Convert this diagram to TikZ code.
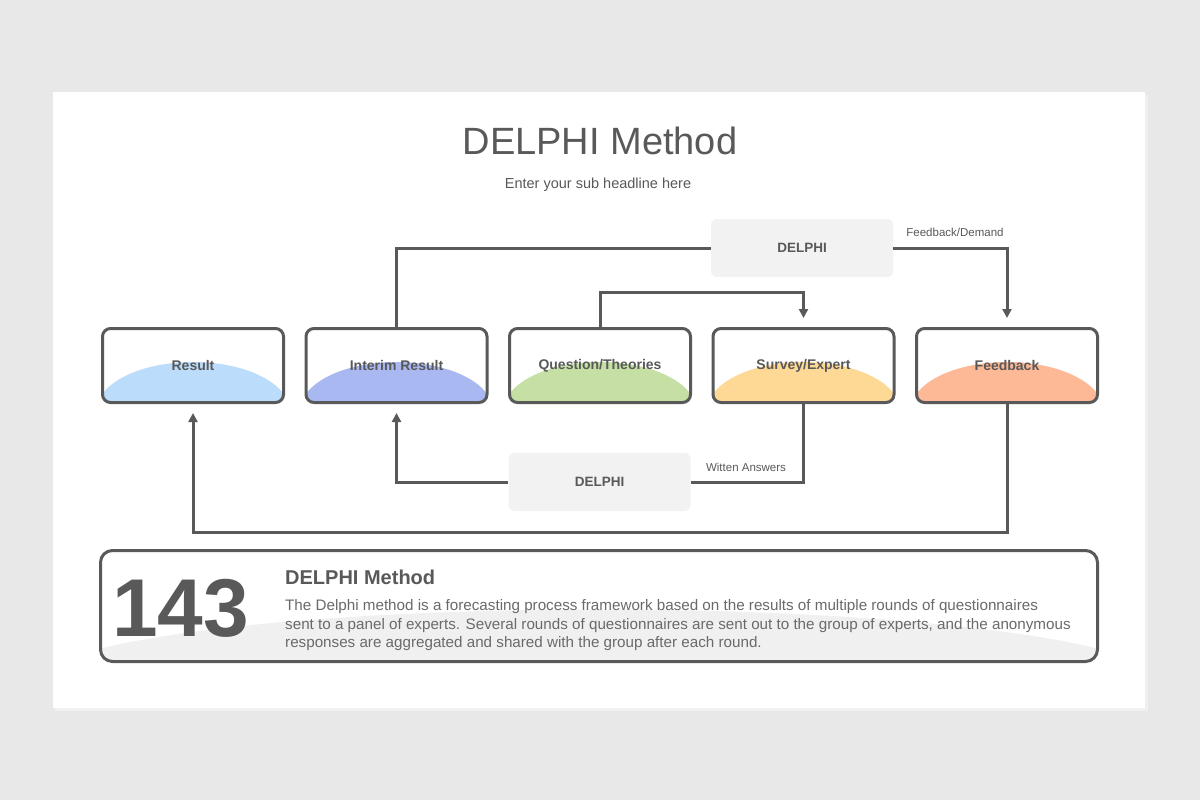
\documentclass[tikz,border=0pt]{standalone}
\usepackage{fontspec}
\setmainfont{Liberation Sans}
\usetikzlibrary{positioning,arrows.meta}
\definecolor{pagegray}{HTML}{E9E8E9}
\definecolor{ink}{HTML}{595959}
\definecolor{boxgray}{HTML}{F2F2F2}
\definecolor{domegray}{HTML}{F0F0F0}
\definecolor{resblue}{HTML}{BBDCFB}
\definecolor{intblue}{HTML}{AAB8F1}
\definecolor{qtgreen}{HTML}{C5DFA5}
\definecolor{svorange}{HTML}{FED996}
\definecolor{fbsalmon}{HTML}{FDB896}
\begin{document}
\begin{tikzpicture}
    [x=1pt, y=-1pt,
      every node/.style={text=ink, inner sep=0pt},
      stage/.style={draw=ink, line width=3pt, rounded corners=8pt,
        minimum width=181pt, minimum height=74pt,
        font=\fontsize{14}{16}\selectfont\bfseries,
        path picture={\fill[#1] ([yshift=-7.5pt]path picture bounding box.south) ellipse (96 and 48);}},
      panel/.style={draw=ink, line width=3pt, rounded corners=12pt,
        minimum width=997pt, minimum height=111pt,
        path picture={\fill[domegray] ([yshift=-20pt]path picture bounding box.south) ellipse (560 and 72);}},
      delphi/.style={fill=boxgray, rounded corners=6pt, minimum width=182pt, minimum height=58pt,
        font=\fontsize{13.5}{16}\selectfont\bfseries},
      note/.style={font=\fontsize{11.5}{14}\selectfont},
      link/.style={draw=ink, line width=3pt},
      arrow/.style={link, -{Triangle[length=9pt,width=9pt]}, shorten >=9pt}]
    \useasboundingbox (0,0) rectangle (1200,800);
    \fill[pagegray] (0,0) rectangle (1200,800);
    \fill[black!6] (55,95) rectangle (1148,711);
    \fill[white] (53,92) rectangle (1145,708);

    \node[font=\fontsize{38}{44}\selectfont] (title) at (600,141) {DELPHI Method};
    \node[font=\fontsize{14.5}{17}\selectfont, anchor=base] (sub) at (598,188) {Enter your sub headline here};

    % stages
    \node[stage=resblue] (res) at (193,365.5) {Result};
    \node[stage=intblue, right=19.5pt of res] (int) {Interim Result};
    \node[stage=qtgreen, right=19.5pt of int] (qt) {Question/Theories};
    \node[stage=svorange, right=19.5pt of qt] (sv) {Survey/Expert};
    \node[stage=fbsalmon, right=19.5pt of sv] (fb) {Feedback};

    \node[delphi] (d1) at (802,248) {DELPHI};
    \node[delphi] (d2) at (599.5,482) {DELPHI};
    \node[note] (fdlbl) at (955,232) {Feedback/Demand};
    \node[note] (walbl) at (746,467) {Witten Answers};

    \draw[link] (int.north) |- (d1.west);
    \draw[arrow] (d1.east) -| (fb.north);
    \draw[arrow] (qt.north) -- ++(0,-35) -| (sv.north);
    \draw[link] (sv.south) |- (d2.east);
    \draw[arrow] (d2.west) -| (int.south);
    \draw[arrow] (fb.south) -- ++(0,128) -| (res.south);

    % summary
    \node[panel] (panel) at (599,606) {};
    \node[font=\fontsize{82}{82}\selectfont\bfseries, anchor=base west] (num) at (112,636) {143};
    \node[font=\fontsize{20}{24}\selectfont\bfseries, anchor=base west] (head) at (285,584) {DELPHI Method};
    \node[font=\fontsize{15.2}{18.5}\selectfont, align=left, anchor=north west, text=ink!90] (body) at (285,599.5)
      {The Delphi method is a forecasting process framework based on the results of multiple rounds of questionnaires\\
       sent to a panel of experts. Several rounds of questionnaires are sent out to the group of experts, and the anonymous\\
       responses are aggregated and shared with the group after each round.};
  \end{tikzpicture}
\end{document}
